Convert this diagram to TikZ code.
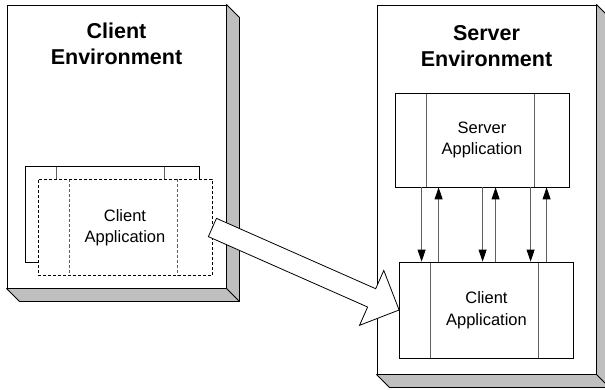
\documentclass[tikz,border=0pt]{standalone}
\usepackage{fontspec}
\setmainfont{Liberation Sans}
\usetikzlibrary{positioning,calc,arrows.meta}

\tikzset{
  envbox/.style={draw,fill=white,line width=0.9pt,minimum width=219pt,inner sep=0pt},
  shadow/.style={draw,fill=gray!50,line width=0.9pt,line join=bevel},
  envtitle/.style={font=\fontsize{21.5}{26}\selectfont\bfseries,align=center,inner sep=0pt},
  divider/.style={draw=gray!75!black,line width=0.8pt},
  appbox/.style={draw,fill=white,line width=0.8pt,minimum width=174pt,minimum height=96pt,
    inner sep=0pt,font=\fontsize{16.5}{21.5}\selectfont,align=center,
    path picture={
      \draw[divider] ([xshift=31pt]path picture bounding box.north west)
        -- ([xshift=31pt]path picture bounding box.south west);
      \draw[divider] ([xshift=-35pt]path picture bounding box.north east)
        -- ([xshift=-35pt]path picture bounding box.south east);}},
  ghost/.style={dash pattern=on 3pt off 2pt,divider/.append style={dash pattern=on 3pt off 2pt}},
  call/.style={draw=gray!75!black,line width=0.8pt,-{Triangle[length=12pt,width=8pt,color=black]}},
}

\begin{document}
\begin{tikzpicture}[x=1pt,y=-1pt]
  \useasboundingbox (0,0) rectangle (605,390);

  % environments
  \node[envbox,minimum height=283pt] (cenv) at (116.5,146.5) {};
  \node[envbox,minimum height=369pt] (senv) at (486.5,189.5) {};
  \foreach \e in {cenv,senv} {
    \draw[shadow] (\e.north east) -- ++(13,13) -- ($(\e.south east)+(13,13)$)
      -- ($(\e.south west)+(13,13)$) -- (\e.south west) -- (\e.south east) -- cycle;
    \draw[line width=0.9pt] (\e.south east) -- ++(13,13);
  }
  \node[envtitle,below=18pt of cenv.north] (ctitle) {Client\\Environment};
  \node[envtitle,below=21pt of senv.north] (stitle) {Server\\Environment};

  % client side
  \node[appbox] (cback) at (112,214.5) {};
  \node[appbox,ghost] (capp) at (125,227.5) {Client\\Application};

  % server side
  \node[appbox,minimum height=94pt] (sapp) at (482,140) {Server\\Application};
  \node[appbox] (scli) at (486.5,310) {Client\\Application};

  % calls and replies
  \foreach \dx in {27,88,136}
    \draw[call] ([xshift=\dx pt]sapp.south west) -- ([xshift=\dx pt]sapp.south west |- scli.north);
  \foreach \dx in {44,101,152}
    \draw[call] ([xshift=\dx pt]sapp.south west |- scli.north) -- ([xshift=\dx pt]sapp.south west);

  % deployment arrow
  \coordinate (hb) at ($(scli.west)!30pt!(capp.east)$);
  \draw[fill=white,line width=0.8pt,line join=miter]
    ($(capp.east)!10pt!90:(scli.west)$) -- ($(hb)!10pt!90:(scli.west)$)
    -- ($(hb)!30pt!90:(scli.west)$) -- (scli.west)
    -- ($(hb)!30pt!-90:(scli.west)$) -- ($(hb)!10pt!-90:(scli.west)$)
    -- ($(capp.east)!10pt!-90:(scli.west)$) -- cycle;
\end{tikzpicture}
\end{document}
